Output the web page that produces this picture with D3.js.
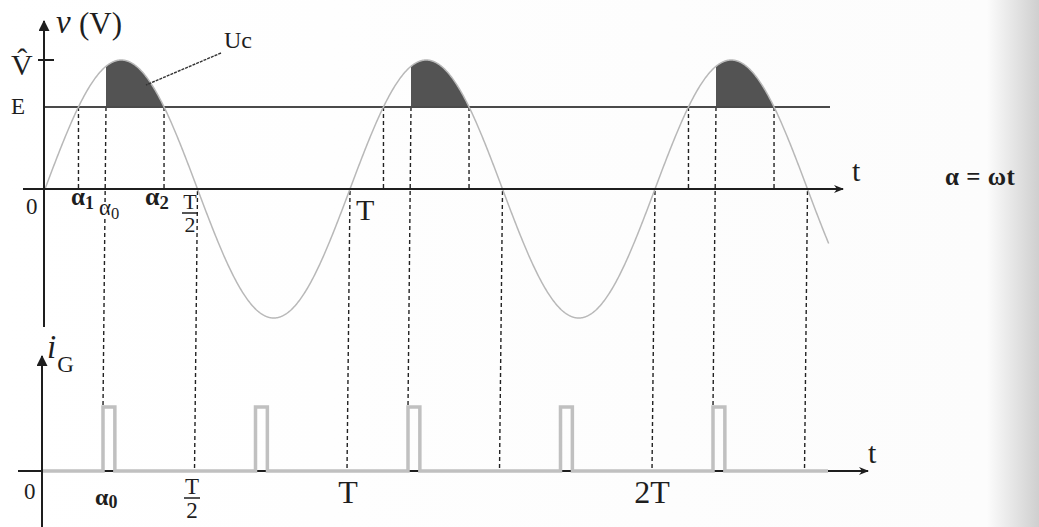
<!DOCTYPE html>
<html>
<head>
<meta charset="utf-8">
<script src="https://cdn.jsdelivr.net/npm/d3@7"></script>
<style>
  html, body { margin: 0; padding: 0; background: #fff; }
  svg { display: block; }
  text { font-family: "Liberation Serif", "DejaVu Serif", serif; fill: #1e1e1e; }
</style>
</head>
<body>
<svg id="fig" width="1039" height="527"></svg>
<script>
// ---- waveform parameters (angles in degrees, α = ωt) ----
const peakValue = 1;            // V̂ (normalised)
const levelE = 0.636;           // E / V̂
const alpha1 = 39.5;            // v = E on the rising edge
const alpha0 = 72;              // gate firing angle
const alpha2 = 140.5;           // v = E on the falling edge
const periodsShown = [0, 1, 2];           // periods with a conduction interval
const zeroCrossings = [180, 360, 540, 720, 900];
const gatePulseStarts = [72, 252, 432, 612, 792];
const gatePulseWidth = 14;
const sineEnd = 926;

// tick / annotation labels
const bottomLabels = [
  { text: "T", deg: 360 }, { text: "2T", deg: 720 }
];

const svg = d3.select("#fig");

// faint paper shading toward the right edge
const defs = svg.append("defs");
const grad = defs.append("linearGradient").attr("id", "paper").attr("x1", 0).attr("x2", 1);
grad.append("stop").attr("offset", "0%").attr("stop-color", "#ffffff");
grad.append("stop").attr("offset", "95%").attr("stop-color", "#fcfcfc");
grad.append("stop").attr("offset", "100%").attr("stop-color", "#cfcfcf");
svg.append("rect").attr("width", 1039).attr("height", 527).attr("fill", "url(#paper)");

const marker = defs.append("marker").attr("id", "arrow").attr("viewBox", "0 0 10 10")
  .attr("refX", 9).attr("refY", 5).attr("markerWidth", 10).attr("markerHeight", 10)
  .attr("markerUnits", "userSpaceOnUse").attr("orient", "auto");
marker.append("path").attr("d", "M0,1 L10,5 L0,9 L3,5 Z").attr("fill", "#1e1e1e");
const markerBig = defs.append("marker").attr("id", "arrowV").attr("viewBox", "0 0 10 10")
  .attr("refX", 9).attr("refY", 5).attr("markerWidth", 13).attr("markerHeight", 11)
  .attr("markerUnits", "userSpaceOnUse").attr("orient", "auto");
markerBig.append("path").attr("d", "M0,0 L10,5 L0,10 Z").attr("fill", "#1e1e1e");

// ---- scales ----
const xTop = d3.scaleLinear().domain([0, 900]).range([45, 45 + 5 * 152.5]);
const yTop = d3.scaleLinear().domain([-peakValue, peakValue]).range([318, 60]);
const xBot = d3.scaleLinear().domain([0, 900]).range([42, 42 + 5 * 152.5]);
const yBot = d3.scaleLinear().domain([0, 1]).range([471, 407]);

const sinV = d => peakValue * Math.sin(d * Math.PI / 180);

// ---- top panel: conduction areas (Uc) ----
const area = d3.area().x(d => xTop(d)).y0(yTop(levelE)).y1(d => yTop(sinV(d)));
periodsShown.forEach(k => {
  const pts = d3.range(alpha0 + 360 * k, alpha2 + 360 * k, 0.5).concat([alpha2 + 360 * k]);
  svg.append("path").attr("d", area(pts)).attr("fill", "#535353");
});

// dashed guides at α1 and α2 (E level to time axis)
const dash = "4,3";
periodsShown.forEach(k => {
  [alpha1, alpha2].forEach(a => {
    svg.append("line")
      .attr("x1", xTop(a + 360 * k)).attr("x2", xTop(a + 360 * k))
      .attr("y1", yTop(levelE)).attr("y2", yTop(0))
      .attr("stroke", "#222").attr("stroke-width", 1.4).attr("stroke-dasharray", dash);
  });
});

// dashed guides from α0 down to the gate pulse
periodsShown.forEach(k => {
  const a = alpha0 + 360 * k;
  svg.append("line")
    .attr("x1", xTop(a)).attr("y1", yTop(levelE))
    .attr("x2", xBot(a)).attr("y2", yBot(1))
    .attr("stroke", "#222").attr("stroke-width", 1.4).attr("stroke-dasharray", dash);
});

// dashed guides at the zero crossings
zeroCrossings.forEach(z => {
  svg.append("line")
    .attr("x1", xTop(z)).attr("y1", yTop(0) + 2)
    .attr("x2", xBot(z)).attr("y2", yBot(0))
    .attr("stroke", "#222").attr("stroke-width", 1.4).attr("stroke-dasharray", dash);
});

// E level
svg.append("line").attr("x1", xTop(0)).attr("x2", 830)
  .attr("y1", yTop(levelE)).attr("y2", yTop(levelE))
  .attr("stroke", "#4a4a4a").attr("stroke-width", 2);

// supply voltage v(t)
const line = d3.line().x(d => xTop(d)).y(d => yTop(sinV(d)));
svg.append("path").attr("d", line(d3.range(0, sineEnd, 1)))
  .attr("fill", "none").attr("stroke", "#b8b8b8").attr("stroke-width", 1.5);

// top axes
svg.append("line").attr("x1", 23).attr("x2", 843).attr("y1", yTop(0)).attr("y2", yTop(0))
  .attr("stroke", "#1e1e1e").attr("stroke-width", 2.2).attr("marker-end", "url(#arrow)");
svg.append("line").attr("x1", 44).attr("x2", 44).attr("y1", 327).attr("y2", 21)
  .attr("stroke", "#1e1e1e").attr("stroke-width", 2).attr("marker-end", "url(#arrowV)");
svg.append("line").attr("x1", 38).attr("x2", 54).attr("y1", yTop(peakValue)).attr("y2", yTop(peakValue))
  .attr("stroke", "#1e1e1e").attr("stroke-width", 2);

// top labels
svg.append("text").attr("x", 56).attr("y", 33).attr("font-size", 33).attr("font-style", "italic").text("v");
svg.append("text").attr("x", 79).attr("y", 34).attr("font-size", 31).text("(V)");
svg.append("text").attr("x", 11).attr("y", 75).attr("font-size", 30).text("V\u0302");
svg.append("text").attr("x", 11).attr("y", 114).attr("font-size", 23).text("E");
svg.append("text").attr("x", 26).attr("y", 214).attr("font-size", 23).text("0");
svg.append("text").attr("x", 356).attr("y", 220).attr("font-size", 30).text("T");
svg.append("text").attr("x", 852).attr("y", 181).attr("font-size", 30).text("t");
svg.append("text").attr("x", 945).attr("y", 185).attr("font-size", 25).attr("font-weight", "bold")
  .attr("letter-spacing", 0.5).text("\u03b1 = \u03c9t");

const subLabel = (x, y, main, sub, size, bold) => {
  const t = svg.append("text").attr("x", x).attr("y", y).attr("font-size", size)
    .attr("font-weight", bold ? "bold" : null)
    .attr("stroke", "#fff").attr("stroke-width", 4).attr("paint-order", "stroke");
  t.append("tspan").text(main);
  t.append("tspan").attr("dy", 4).attr("font-size", size * 0.72).text(sub);
};
subLabel(71, 205, "\u03b1", "1", 25, true);
subLabel(99, 215, "\u03b1", "0", 23, false);
subLabel(145, 205, "\u03b1", "2", 26, true);

const fracHalf = (cx, yT, size) => {
  svg.append("text").attr("x", cx).attr("y", yT).attr("font-size", size).attr("text-anchor", "middle").text("T");
  svg.append("line").attr("x1", cx - 8).attr("x2", cx + 8).attr("y1", yT + 4).attr("y2", yT + 4)
    .attr("stroke", "#1e1e1e").attr("stroke-width", 1.5);
  svg.append("text").attr("x", cx).attr("y", yT + 4 + size * 0.85).attr("font-size", size).attr("text-anchor", "middle").text("2");
};
fracHalf(190, 209, 22);

// Uc annotation
svg.append("text").attr("x", 224).attr("y", 48).attr("font-size", 24).text("Uc");
svg.append("line").attr("x1", 221).attr("y1", 53).attr("x2", 146).attr("y2", 85)
  .attr("stroke", "#333").attr("stroke-width", 1.4).attr("stroke-dasharray", "3,1");

// ---- bottom panel: gate current iG ----
svg.append("line").attr("x1", 18).attr("x2", 868).attr("y1", yBot(0)).attr("y2", yBot(0))
  .attr("stroke", "#1e1e1e").attr("stroke-width", 2).attr("marker-end", "url(#arrow)");

const gatePts = [[0, 0]];
gatePulseStarts.forEach(s => {
  gatePts.push([s, 0], [s, 1], [s + gatePulseWidth, 1], [s + gatePulseWidth, 0]);
});
gatePts.push([xBot.invert(828), 0]);
const pulseLine = d3.line().x(d => xBot(d[0])).y(d => yBot(d[1]));
svg.append("path").attr("d", pulseLine(gatePts))
  .attr("fill", "none").attr("stroke", "#c0c0c0").attr("stroke-width", 3.5)
  .attr("stroke-linejoin", "miter");
// the time axis stays visible between the legs of each pulse
gatePulseStarts.forEach(s => {
  svg.append("line").attr("x1", xBot(s) + 3).attr("x2", xBot(s + gatePulseWidth) - 2)
    .attr("y1", yBot(0)).attr("y2", yBot(0)).attr("stroke", "#1e1e1e").attr("stroke-width", 2);
});

svg.append("line").attr("x1", 42).attr("x2", 42).attr("y1", 527).attr("y2", 356)
  .attr("stroke", "#1e1e1e").attr("stroke-width", 2).attr("marker-end", "url(#arrowV)");

// bottom labels
const iG = svg.append("text").attr("x", 47).attr("y", 358).attr("font-size", 33).attr("font-style", "italic");
iG.append("tspan").text("i");
iG.append("tspan").attr("dx", 1).attr("dy", 14).attr("font-size", 23).attr("font-style", "normal").text("G");
svg.append("text").attr("x", 24).attr("y", 499).attr("font-size", 23).text("0");
const a0b = svg.append("text").attr("x", 95).attr("y", 505).attr("font-size", 24).attr("font-weight", "bold");
a0b.append("tspan").text("\u03b1");
a0b.append("tspan").attr("dy", 3).attr("font-size", 18).text("0");
fracHalf(192, 494, 23);
bottomLabels.forEach(l => {
  svg.append("text").attr("x", xBot(l.deg) + (l.text === "T" ? 1 : 0)).attr("y", 503)
    .attr("font-size", 32).attr("text-anchor", "middle").text(l.text);
});
svg.append("text").attr("x", 868).attr("y", 463).attr("font-size", 30).text("t");
</script>
</body>
</html>
